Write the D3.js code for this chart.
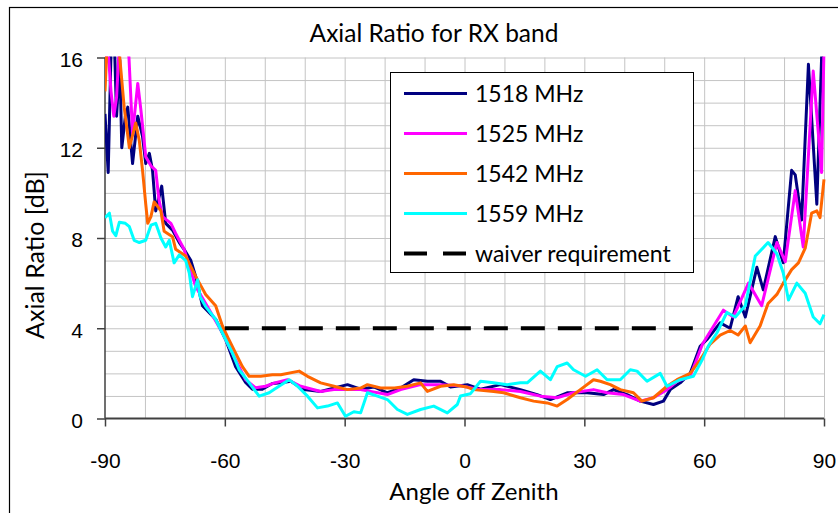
<!DOCTYPE html>
<html>
<head>
<meta charset="utf-8">
<style>
  body { margin: 0; background: #fff; }
  svg { display: block; font-family: Lato, 'Liberation Sans', sans-serif; }
  .grid line { stroke: #c4c4c4; stroke-width: 1; }
  .grid .domain { display: none; }
  .axis text { font-size: 21px; fill: #000; }
  .axis line { stroke: #404040; stroke-width: 1.5; }
  .axis .domain { display: none; }
</style>
</head>
<body>
<script src="https://d3js.org/d3.v7.min.js"></script>
<script>
// values: [angle off zenith (deg), axial ratio (dB)]
const s1518 = [[-90,13.5],[-89.2,10.9],[-88.5,16.2],[-87.7,17],[-87.1,13.4],[-86.3,15.9],[-85.8,12.0],[-84.9,13.4],[-84.3,13.8],[-83.1,11.3],[-81.8,13.4],[-80.6,12.5],[-79.8,11.3],[-78.9,11.75],[-78.1,11.0],[-77.3,9.2],[-75.8,10.3],[-74.8,8.65],[-73.1,8.35],[-71.4,7.8],[-70.2,7.5],[-68.5,7.0],[-67.3,6.3],[-65.6,5.0],[-62.3,4.4],[-59.8,3.5],[-57.3,2.3],[-54.8,1.6],[-53.1,1.3],[-50.6,1.3],[-48.1,1.55],[-46,1.58],[-43.5,1.65],[-40.2,1.28],[-36,1.2],[-29.3,1.5],[-26,1.3],[-22.7,1.4],[-19.3,1.14],[-16,1.35],[-12.7,1.72],[-9.3,1.65],[-6,1.65],[-3.5,1.4],[0.7,1.5],[2.3,1.4],[4,1.3],[9,1.5],[14,1.28],[18.2,1.06],[21.5,0.84],[25.7,1.14],[30.7,1.14],[34.8,1.06],[37.3,1.28],[40.7,1.06],[44,0.77],[47.3,0.62],[49.8,0.77],[51.5,1.28],[54,1.58],[56.5,2.0],[59,3.2],[60.7,3.5],[64,4.24],[66.5,4.0],[68.5,5.4],[70.3,4.5],[73.2,6.7],[74.8,5.7],[77.8,8.06],[79.8,6.9],[81.9,11.0],[82.8,10.8],[84.4,8.8],[86.1,15.7],[88.2,9.5],[89.4,16.0],[90,17]];
const s1525 = [[-90,15.5],[-89.3,16.5],[-88.5,14.5],[-87.8,13.4],[-87.1,14.25],[-86.3,17],[-84.8,17],[-84,16],[-83.1,12.6],[-81.8,14.85],[-81,13.65],[-79.8,11.6],[-78.5,11.2],[-77.3,11.0],[-76.5,9.7],[-75.6,8.95],[-73.5,8.65],[-72.3,8.2],[-70.2,7.5],[-67.3,5.85],[-64.8,5.1],[-60.6,3.8],[-57.3,2.6],[-54.8,1.72],[-52.3,1.36],[-49.8,1.43],[-47.5,1.58],[-44.3,1.72],[-41,1.43],[-36,1.2],[-32.7,1.28],[-26,1.28],[-19.3,1.06],[-16,1.28],[-11,1.5],[-6,1.5],[-1,1.45],[4,1.28],[9,1.28],[14,1.2],[19,0.99],[23.2,0.92],[27.3,1.14],[32.3,1.28],[35.7,1.14],[39.8,1.06],[44,0.77],[47.3,0.92],[50.7,1.28],[53.2,1.65],[56.5,1.87],[59.6,3.3],[64.8,4.8],[67.3,4.5],[71.1,6.0],[74.4,5.0],[78.2,7.8],[80.3,6.95],[82.8,10.1],[84.8,7.6],[87.3,15.4],[89.4,10.9],[90,16.5]];
const s1542 = [[-90,14.5],[-89.5,16.5],[-88.8,17],[-86.8,17],[-86,15.4],[-85.2,13.8],[-83.9,12.0],[-82.3,13.1],[-81.4,12.3],[-80.6,11.0],[-79.8,9.5],[-79.3,8.65],[-78.5,8.95],[-77.7,9.6],[-76,9.2],[-75.2,8.3],[-73.1,8.06],[-72.3,7.5],[-69.8,7.2],[-67.3,6.3],[-64.8,5.5],[-62.3,5.0],[-60.6,4.1],[-59,3.5],[-57.3,2.9],[-55.6,2.3],[-53.9,1.87],[-51,1.87],[-48.1,1.94],[-46,1.94],[-41.4,2.1],[-39.3,1.87],[-36,1.58],[-32.7,1.43],[-29.3,1.28],[-26,1.35],[-24.3,1.5],[-21,1.35],[-17.5,1.35],[-14.3,1.43],[-11,1.58],[-9.3,1.2],[-6,1.43],[-2.7,1.5],[0.5,1.4],[2.3,1.28],[7.3,1.2],[9.8,1.14],[14,0.92],[17.3,0.77],[20.7,0.69],[23.2,0.55],[25.7,0.84],[29,1.28],[32.3,1.72],[34,1.65],[36.5,1.5],[39,1.28],[42.3,1.14],[44.4,0.77],[47.3,0.92],[50.7,1.43],[53.2,1.72],[56.5,2.0],[59,2.6],[61.5,3.3],[64,3.7],[66.5,3.9],[68.5,3.7],[70.3,4.1],[71.5,3.36],[74,4.1],[76,5.1],[78.2,5.5],[79.8,6.0],[81.9,6.6],[83.6,6.9],[85.3,7.55],[86.9,9.1],[88.2,9.2],[89,8.9],[90,10.6]];
const s1559 = [[-90,8.9],[-88.9,9.1],[-88.1,8.3],[-87.3,8.1],[-86.4,8.7],[-84.9,8.65],[-83.9,8.5],[-82.7,7.9],[-81.4,7.8],[-79.8,7.9],[-78.5,8.57],[-77.3,8.65],[-76,8.0],[-74.8,7.6],[-73.9,7.9],[-72.7,6.9],[-71.4,7.25],[-69.8,7.0],[-68.9,6.45],[-68.1,5.4],[-66.8,6.15],[-66.2,5.4],[-64.8,4.96],[-62.3,4.4],[-59.8,3.5],[-58.1,2.9],[-56.4,2.16],[-53.9,1.58],[-51.4,0.99],[-48.9,1.14],[-47.7,1.28],[-43.9,1.72],[-41.8,1.43],[-39.3,0.99],[-36.8,0.47],[-34.3,0.55],[-31.8,0.69],[-29.8,0.1],[-27.7,0.3],[-26,0.25],[-24.3,1.14],[-21.8,0.99],[-19.3,0.84],[-16.8,0.4],[-14.3,0.18],[-11,0.4],[-7.7,0.55],[-4.3,0.25],[-1.8,0.62],[-1,1.0],[1.5,1.1],[4,1.65],[7.3,1.58],[10.7,1.5],[14,1.58],[15.7,1.58],[19,2.1],[21.5,1.72],[23.2,2.3],[25.7,2.46],[27.3,2.16],[30.3,1.87],[33.2,2.16],[35.7,1.72],[39,1.72],[41.5,2.16],[43.2,2.1],[45.7,1.65],[49,2.0],[50.7,1.43],[54,1.72],[57.3,1.87],[59.5,2.6],[61,3.2],[63.2,3.8],[65.7,4.7],[67.8,4.5],[70.3,5.0],[72.8,7.2],[76,7.8],[78.2,7.3],[79.8,6.45],[81.1,5.25],[83.2,6.0],[85.3,5.55],[87.3,4.5],[89,4.2],[90,4.6]];
const waiver = [[-60,4],[60,4]];

const seriesNames = ["1518 MHz", "1525 MHz", "1542 MHz", "1559 MHz"];
const seriesColors = ["#000080", "#ff00ff", "#ff6600", "#00ffff"];
const xTicks = [-90, -60, -30, 0, 30, 60, 90];
const yTicks = [0, 4, 8, 12, 16];

const W = 838, H = 513;
const svg = d3.select("body").append("svg").attr("width", W).attr("height", H);

// outer chart frame
svg.append("rect").attr("x", 9.5).attr("y", 7.5).attr("width", 840).attr("height", 520)
    .attr("fill", "#fff").attr("stroke", "#000").attr("stroke-width", 1.2);

const x = d3.scaleLinear().domain([-90, 90]).range([105, 824]);
const y = d3.scaleLinear().domain([0, 16]).range([418.5, 57.5]);

// gridlines: 10 deg and 1 dB
svg.append("g").attr("class", "grid")
    .attr("transform", `translate(0,${y(0)})`)
    .call(d3.axisBottom(x).tickValues(d3.range(-80, 91, 10)).tickSize(-(y(0) - y(16))).tickFormat(""));
svg.append("g").attr("class", "grid")
    .attr("transform", `translate(${x(-90)},0)`)
    .call(d3.axisLeft(y).tickValues(d3.range(1, 17, 1)).tickSize(-(x(90) - x(-90))).tickFormat(""));

// axes (plain hyphen for negatives, like the original)
svg.append("g").attr("class", "axis")
    .attr("transform", `translate(0,${y(0)})`)
    .call(d3.axisBottom(x).tickValues(xTicks).tickSize(8).tickPadding(27).tickFormat(d => String(d)));
svg.append("g").attr("class", "axis")
    .attr("transform", `translate(${x(-90)},0)`)
    .call(d3.axisLeft(y).tickValues(yTicks).tickSize(8).tickPadding(14).tickFormat(d => String(d)))
    .selectAll("text").attr("dy", "0.42em");

svg.append("line").attr("x1", x(-90)).attr("x2", x(90)).attr("y1", y(0)).attr("y2", y(0))
    .attr("stroke", "#404040").attr("stroke-width", 2);
svg.append("line").attr("x1", x(-90)).attr("x2", x(-90)).attr("y1", y(0)).attr("y2", y(16))
    .attr("stroke", "#404040").attr("stroke-width", 1.5);

// series, clipped to the plot area
svg.append("clipPath").attr("id", "plot-clip")
    .append("rect").attr("x", x(-90)).attr("y", y(16) - 1).attr("width", x(90) - x(-90) + 2).attr("height", y(0) - y(16) + 1);

const line = d3.line().x(d => x(d[0])).y(d => y(d[1]));
const plot = svg.append("g").attr("clip-path", "url(#plot-clip)");

plot.selectAll("path.series")
    .data([s1518, s1525, s1542, s1559])
    .join("path")
    .attr("class", "series")
    .attr("d", line)
    .attr("fill", "none")
    .attr("stroke", (d, i) => seriesColors[i])
    .attr("stroke-width", 3)
    .attr("stroke-linejoin", "round");

plot.append("path")
    .datum(waiver)
    .attr("d", line)
    .attr("fill", "none")
    .attr("stroke", "#000")
    .attr("stroke-width", 4)
    .attr("stroke-dasharray", "24,13");

// titles
svg.append("text").attr("x", 434).attr("y", 42).attr("text-anchor", "middle")
    .attr("font-size", 24.5).text("Axial Ratio for RX band");
svg.append("text").attr("x", 474).attr("y", 500).attr("text-anchor", "middle")
    .attr("font-size", 24).text("Angle off Zenith");
svg.append("text").attr("transform", "translate(44,255) rotate(-90)").attr("text-anchor", "middle")
    .attr("font-size", 25).text("Axial Ratio [dB]");

// legend
const legend = svg.append("g");
legend.append("rect").attr("x", 390.5).attr("y", 72.5).attr("width", 303).attr("height", 200)
    .attr("fill", "#fff").attr("stroke", "#000").attr("stroke-width", 1);

const legendItems = seriesNames.map((n, i) => ({ name: n, color: seriesColors[i], dash: null }))
    .concat([{ name: "waiver requirement", color: "#000", dash: "23,16" }]);

const li = legend.selectAll("g.item").data(legendItems).join("g")
    .attr("class", "item")
    .attr("transform", (d, i) => `translate(0,${93.5 + i * 40})`);
li.append("line").attr("x1", 404).attr("x2", 467)
    .attr("stroke", d => d.color)
    .attr("stroke-width", d => d.dash ? 4 : 3)
    .attr("stroke-dasharray", d => d.dash);
li.append("text").attr("x", 475).attr("dy", "0.36em")
    .attr("font-size", 23).text(d => d.name);
</script>
</body>
</html>
